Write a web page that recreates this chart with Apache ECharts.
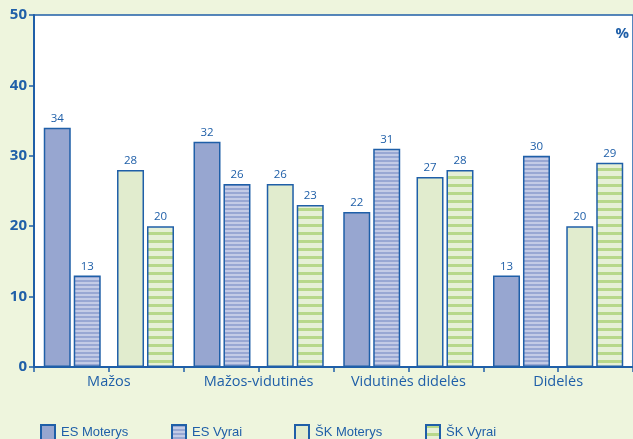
<!DOCTYPE html>
<html lang="lt">
<head>
    <meta charset="UTF-8">
    <title>Grafikas</title>
    <script src="https://cdn.jsdelivr.net/npm/echarts@6/dist/echarts.min.js"></script>
</head>
<style>
    html, body {
        margin: 0;
        height: 100%;
        background: #eef5dd;
    }
</style>
<body>
<div id="main" style="width: 633px;height:439px"></div>
<script type="text/javascript">
    var categories = ['Mažos', 'Mažos-vidutinės', 'Vidutinės didelės', 'Didelės'];
    var esMoterys = [34, 32, 22, 13];
    var esVyrai = [13, 26, 31, 30];
    var skMoterys = [28, 26, 27, 20];
    var skVyrai = [20, 23, 28, 29];
    var yTicks = [0, 10, 20, 30, 40, 50];

    var blue = '#1f5fa8';

    // juostuoti raštai
    function stripes(bg, line, period, thick) {
        var c = document.createElement('canvas');
        c.width = 8;
        c.height = period;
        var ctx = c.getContext('2d');
        ctx.fillStyle = bg;
        ctx.fillRect(0, 0, 8, period);
        ctx.fillStyle = line;
        ctx.fillRect(0, 0, 8, thick);
        return {image: c, repeat: 'repeat'};
    }

    var myChart = echarts.init(document.getElementById('main'));
    var label = {show: true, position: 'top', color: blue, fontSize: 11.5, distance: 3, fontFamily: 'Open Sans'};
    var border = {borderColor: blue, borderWidth: 1.5};

    var option = {
        backgroundColor: '#eef5dd',
        animation: false,
        grid: {left: 34, right: -2, top: 15, bottom: 72, show: true, backgroundColor: '#fff', borderColor: blue, borderWidth: 1.5},
        graphic: [{type: 'text', right: 4, top: 26, style: {text: '%', fill: blue, font: 'bold 15px "Open Sans"'}}],
        xAxis: [{
            type: 'category', data: categories,
            axisLine: {lineStyle: {color: blue, width: 2}},
            axisTick: {show: false},
            axisLabel: {color: blue, fontSize: 14.5, margin: 7, interval: 0, fontFamily: 'Open Sans'}
        }, {
            type: 'value', min: 0, max: 4, interval: 0.5, position: 'bottom',
            axisLine: {show: false},
            axisTick: {show: true, length: 5, lineStyle: {color: blue, width: 1.5}},
            axisLabel: {show: false}, splitLine: {show: false}
        }],
        yAxis: {
            type: 'value', min: yTicks[0], max: yTicks[yTicks.length - 1], interval: 10,
            axisLine: {show: true, lineStyle: {color: blue, width: 2}},
            axisTick: {show: true, length: 5, lineStyle: {color: blue, width: 1.5}},
            axisLabel: {color: blue, fontSize: 15, fontWeight: 'bold', margin: 7, fontFamily: 'Open Sans'},
            splitLine: {show: false}
        },
        legend: [
            {data: ['ES Moterys'], left: 40},
            {data: ['ES Vyrai'], left: 171},
            {data: ['ŠK Moterys'], left: 294},
            {data: ['ŠK Vyrai'], left: 425}
        ].map(function (l) {
            l.top = 424;
            l.padding = 0;
            l.itemGap = 0;
            l.itemWidth = 14;
            l.itemHeight = 15;
            l.icon = 'rect';
            l.textStyle = {color: blue, fontSize: 13, fontFamily: 'Liberation Sans', padding: [0, 0, 0, 1]};
            return l;
        }),
        series: [
            {name: 'ES Moterys', type: 'bar', barWidth: 27, barGap: '11%', data: esMoterys, label: label,
                itemStyle: Object.assign({color: '#97a6d0'}, border)},
            {name: 'ES Vyrai', type: 'bar', barWidth: 27, barGap: '11%', data: esVyrai, label: label,
                itemStyle: Object.assign({color: stripes('#c3cbe6', '#98a7d3', 4, 2)}, border)},
            {name: 'tarpas', type: 'bar', barWidth: 12, barGap: '11%', data: [null, null, null, null]},
            {name: 'ŠK Moterys', type: 'bar', barWidth: 27, barGap: '11%', data: skMoterys, label: label,
                itemStyle: Object.assign({color: '#e1ecce'}, border)},
            {name: 'ŠK Vyrai', type: 'bar', barWidth: 27, barGap: '11%', data: skVyrai, label: label,
                itemStyle: Object.assign({color: stripes('#e6f0d6', '#b7d88a', 8, 3)}, border)}
        ]
    };
    myChart.setOption(option);
</script>
</body>
</html>
